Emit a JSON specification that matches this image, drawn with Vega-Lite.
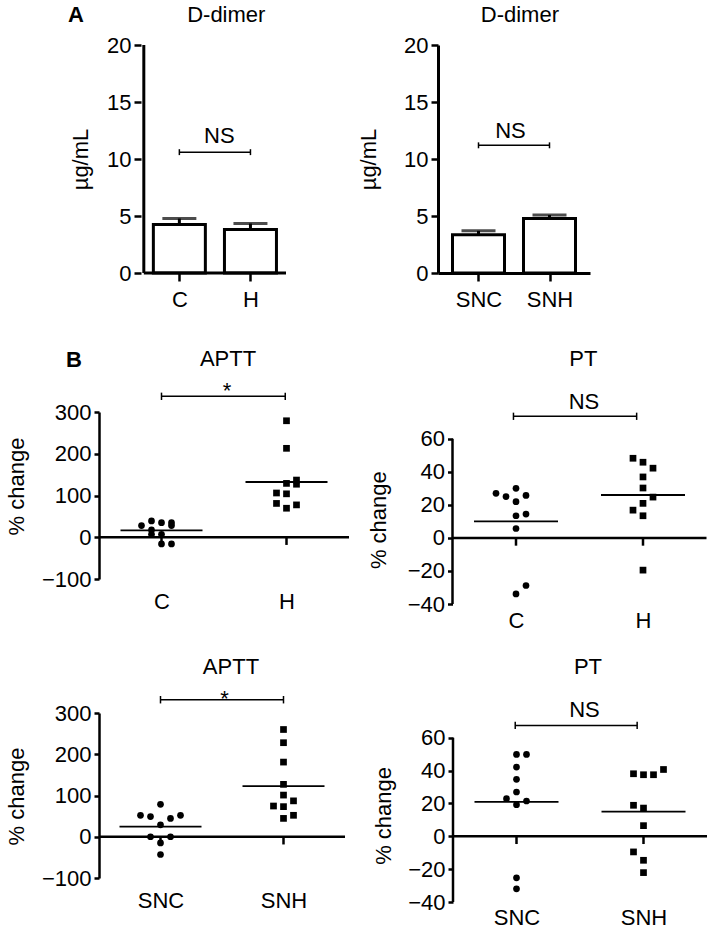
{
  "$schema": "https://vega.github.io/schema/vega-lite/v6.json",
  "background": "white",
  "padding": {"left": 5, "top": 4, "right": 0, "bottom": 0},
  "config": {
    "font": "Liberation Sans",
    "view": {"stroke": null},
    "axis": {"grid": false, "domainColor": "#000", "domainWidth": 2.5, "tickColor": "#000", "tickWidth": 2.5, "labelColor": "#000", "labelFontSize": 22, "labelFont": "Liberation Sans", "titleColor": "#000", "titleFontSize": 22, "titleFont": "Liberation Sans", "titleFontWeight": "normal", "labelFlush": false, "labelOverlap": false, "labelAngle": 0},
    "text": {"fontSize": 22, "font": "Liberation Sans", "color": "#000", "baseline": "middle", "align": "center"},
    "rule": {"color": "#000"},
    "tick": {"color": "#000"},
    "point": {"color": "#000", "filled": true, "opacity": 1}
  },
  "datasets": {
    "dd1": [{"grp": 1, "mean": 4.25, "upper": 4.78}, {"grp": 2, "mean": 3.82, "upper": 4.34}],
    "dd2": [{"grp": 1, "mean": 3.35, "upper": 3.7}, {"grp": 2, "mean": 4.78, "upper": 5.08}],
    "cats": [{"grp": 1}, {"grp": 2}],
    "one": [{}],
    "aptt1": [
      {"group": "C", "v": 28, "slot": -2}, {"group": "C", "v": 39, "slot": -1}, {"group": "C", "v": 35, "slot": 0}, {"group": "C", "v": 35, "slot": 1}, {"group": "C", "v": 28, "slot": 1},
      {"group": "C", "v": 17.5, "slot": -1}, {"group": "C", "v": 7, "slot": -1}, {"group": "C", "v": 7, "slot": 0}, {"group": "C", "v": -16, "slot": 0}, {"group": "C", "v": -16, "slot": 1},
      {"group": "H", "v": 279, "slot": 0}, {"group": "H", "v": 213, "slot": 0}, {"group": "H", "v": 129, "slot": 0}, {"group": "H", "v": 137, "slot": 1}, {"group": "H", "v": 127, "slot": 1},
      {"group": "H", "v": 106, "slot": -1}, {"group": "H", "v": 104, "slot": 0}, {"group": "H", "v": 81, "slot": -1}, {"group": "H", "v": 69.5, "slot": 0}, {"group": "H", "v": 77.5, "slot": 1}
    ],
    "pt1": [
      {"group": "C", "v": 27, "slot": -2}, {"group": "C", "v": 25, "slot": -1}, {"group": "C", "v": 30, "slot": 0}, {"group": "C", "v": 25.7, "slot": 1}, {"group": "C", "v": 21.9, "slot": 0},
      {"group": "C", "v": 13.4, "slot": 0}, {"group": "C", "v": 14.4, "slot": 1}, {"group": "C", "v": 5.7, "slot": 0}, {"group": "C", "v": -28.8, "slot": 1}, {"group": "C", "v": -33.9, "slot": 0},
      {"group": "H", "v": 48.2, "slot": -1}, {"group": "H", "v": 45.8, "slot": 0}, {"group": "H", "v": 42.2, "slot": 1}, {"group": "H", "v": 36.9, "slot": 0}, {"group": "H", "v": 30.2, "slot": 0},
      {"group": "H", "v": 24.7, "slot": 1}, {"group": "H", "v": 20.9, "slot": 0}, {"group": "H", "v": 16.8, "slot": -1}, {"group": "H", "v": 13.4, "slot": 0}, {"group": "H", "v": -19.5, "slot": 0}
    ],
    "aptt2": [
      {"group": "SNC", "v": 78.5, "slot": 0}, {"group": "SNC", "v": 52, "slot": -2}, {"group": "SNC", "v": 49, "slot": -1}, {"group": "SNC", "v": 44.5, "slot": 1}, {"group": "SNC", "v": 52, "slot": 2},
      {"group": "SNC", "v": 29, "slot": 0}, {"group": "SNC", "v": 0, "slot": -1}, {"group": "SNC", "v": 0, "slot": 1}, {"group": "SNC", "v": -15, "slot": 0}, {"group": "SNC", "v": -43, "slot": 0},
      {"group": "SNH", "v": 260, "slot": 0}, {"group": "SNH", "v": 228, "slot": 0}, {"group": "SNH", "v": 181, "slot": 0}, {"group": "SNH", "v": 127, "slot": 0}, {"group": "SNH", "v": 101, "slot": 0},
      {"group": "SNH", "v": 87, "slot": 1}, {"group": "SNH", "v": 74.5, "slot": -1}, {"group": "SNH", "v": 73, "slot": 0}, {"group": "SNH", "v": 52, "slot": 1}, {"group": "SNH", "v": 44.5, "slot": 0}
    ],
    "pt2": [
      {"group": "SNC", "v": 49.9, "slot": 0}, {"group": "SNC", "v": 49.9, "slot": 1}, {"group": "SNC", "v": 42.2, "slot": 0}, {"group": "SNC", "v": 34.7, "slot": 0}, {"group": "SNC", "v": 27, "slot": 0},
      {"group": "SNC", "v": 22.9, "slot": -1}, {"group": "SNC", "v": 19.3, "slot": 0}, {"group": "SNC", "v": 21.5, "slot": 1}, {"group": "SNC", "v": -25.3, "slot": 0}, {"group": "SNC", "v": -32, "slot": 0},
      {"group": "SNH", "v": 38.1, "slot": -1}, {"group": "SNH", "v": 37.5, "slot": 0}, {"group": "SNH", "v": 37.5, "slot": 1}, {"group": "SNH", "v": 40.7, "slot": 2}, {"group": "SNH", "v": 18.9, "slot": -1},
      {"group": "SNH", "v": 17.2, "slot": 0}, {"group": "SNH", "v": 6.5, "slot": 0}, {"group": "SNH", "v": -9.5, "slot": -1}, {"group": "SNH", "v": -14.6, "slot": 0}, {"group": "SNH", "v": -22.1, "slot": 0}
    ]
  },
  "spacing": 38,
  "vconcat": [
    {
      "spacing": 66,
      "hconcat": [
        {
          "width": 192, "height": 228,
          "layer": [
            {"data": {"name": "dd1"}, "mark": {"type": "bar", "size": 52, "fill": "white", "stroke": "black", "strokeWidth": 3},
             "encoding": {
               "x": {"field": "grp", "type": "quantitative", "scale": {"domain": [-0.06, 2.5], "nice": false, "zero": false},
                     "axis": {"values": [1, 2], "labelExpr": "datum.value == 1 ? 'C' : 'H'", "title": null, "domain": false, "tickSize": 8, "labelPadding": 8}},
               "y": {"field": "mean", "type": "quantitative", "scale": {"domain": [0, 20], "nice": false},
                     "axis": {"values": [0, 5, 10, 15, 20], "tickCount": 12, "title": "µg/mL", "domain": false, "offset": -42, "tickSize": 7, "labelPadding": 3, "titlePadding": 14.5}}}},
            {"data": {"name": "dd1"}, "mark": {"type": "rule", "strokeWidth": 3},
             "encoding": {"x": {"field": "grp", "type": "quantitative"}, "y": {"field": "mean", "type": "quantitative"}, "y2": {"field": "upper"}}},
            {"data": {"name": "dd1"}, "mark": {"type": "tick", "orient": "horizontal", "size": 34, "thickness": 3},
             "encoding": {"x": {"field": "grp", "type": "quantitative"}, "y": {"field": "upper", "type": "quantitative"}}},
            {"data": {"name": "one"}, "mark": {"type": "rule", "strokeWidth": 3},
             "encoding": {"x": {"datum": 0.5}, "y": {"datum": 0}, "y2": {"datum": 20}}},
            {"data": {"name": "one"}, "mark": {"type": "rule", "strokeWidth": 3},
             "encoding": {"x": {"datum": 0.5}, "x2": {"datum": 2.5}, "y": {"datum": 0}}},
            {"data": {"name": "one"}, "mark": {"type": "rule", "strokeWidth": 1.5},
             "encoding": {"x": {"datum": 1}, "x2": {"datum": 2}, "y": {"datum": 10.6}}},
            {"data": {"name": "cats"}, "mark": {"type": "rule", "strokeWidth": 1.5},
             "encoding": {"x": {"field": "grp", "type": "quantitative"}, "y": {"datum": 10.34}, "y2": {"datum": 10.86}}},
            {"data": {"name": "one"}, "mark": {"type": "text"},
             "encoding": {"x": {"datum": 1.563}, "y": {"datum": 12.0}, "text": {"value": "NS"}}},
            {"data": {"name": "one"}, "mark": {"type": "text"},
             "encoding": {"x": {"datum": 1.66}, "y": {"datum": 22.63}, "text": {"value": "D-dimer"}}},
            {"data": {"name": "one"}, "mark": {"type": "text", "fontWeight": "bold"},
             "encoding": {"x": {"datum": -0.453}, "y": {"datum": 22.6}, "text": {"value": "A"}}}
          ]
        },
        {
          "width": 152, "height": 228,
          "layer": [
            {"data": {"name": "dd2"}, "mark": {"type": "bar", "size": 52, "fill": "white", "stroke": "black", "strokeWidth": 3},
             "encoding": {
               "x": {"field": "grp", "type": "quantitative", "scale": {"domain": [0.5, 2.5], "nice": false, "zero": false},
                     "axis": {"values": [1, 2], "labelExpr": "datum.value == 1 ? 'SNC' : 'SNH'", "title": null, "domainWidth": 3, "tickSize": 8, "labelPadding": 8}},
               "y": {"field": "mean", "type": "quantitative", "scale": {"domain": [0, 20], "nice": false},
                     "axis": {"values": [0, 5, 10, 15, 20], "tickCount": 12, "title": "µg/mL", "domainWidth": 3, "tickSize": 7, "labelPadding": 3, "titlePadding": 23}}}},
            {"data": {"name": "dd2"}, "mark": {"type": "rule", "strokeWidth": 3},
             "encoding": {"x": {"field": "grp", "type": "quantitative"}, "y": {"field": "mean", "type": "quantitative"}, "y2": {"field": "upper"}}},
            {"data": {"name": "dd2"}, "mark": {"type": "tick", "orient": "horizontal", "size": 34, "thickness": 3},
             "encoding": {"x": {"field": "grp", "type": "quantitative"}, "y": {"field": "upper", "type": "quantitative"}}},
            {"data": {"name": "one"}, "mark": {"type": "rule", "strokeWidth": 1.5},
             "encoding": {"x": {"datum": 1}, "x2": {"datum": 2}, "y": {"datum": 11.2}}},
            {"data": {"name": "cats"}, "mark": {"type": "rule", "strokeWidth": 1.5},
             "encoding": {"x": {"field": "grp", "type": "quantitative"}, "y": {"datum": 10.94}, "y2": {"datum": 11.46}}},
            {"data": {"name": "one"}, "mark": {"type": "text"},
             "encoding": {"x": {"datum": 1.45}, "y": {"datum": 12.5}, "text": {"value": "NS"}}},
            {"data": {"name": "one"}, "mark": {"type": "text"},
             "encoding": {"x": {"datum": 1.583}, "y": {"datum": 22.63}, "text": {"value": "D-dimer"}}}
          ]
        }
      ]
    },
    {
      "spacing": 23,
      "vconcat": [
        {
          "spacing": 15.5,
          "hconcat": [
            {
              "width": 250, "height": 167,
              "resolve": {"scale": {"x": "independent"}},
              "layer": [
                {"data": {"name": "aptt1"},
                 "layer": [
                   {"mark": {"type": "point", "filled": true, "size": 45, "opacity": 1, "color": "black"},
                    "encoding": {
                      "x": {"field": "group", "type": "nominal", "scale": {"type": "point", "domain": ["C", "H"], "padding": 0.5},
                            "axis": {"title": null, "domain": false, "ticks": false, "tickSize": 0, "labelPadding": 12.5}},
                      "xOffset": {"field": "slot", "type": "quantitative", "scale": {"domain": [-2, 2], "range": [-20, 20]}},
                      "y": {"field": "v", "type": "quantitative", "scale": {"domain": [-100, 300], "nice": false},
                            "axis": {"values": [-100, 0, 100, 200, 300], "tickCount": 12, "title": "% change", "tickSize": 5, "labelPadding": 3, "titlePadding": 12.5, "titleY": 74}},
                      "shape": {"field": "group", "type": "nominal", "scale": {"domain": ["C", "H"], "range": ["circle", "square"]}, "legend": null}}},
                   {"mark": {"type": "tick", "orient": "horizontal", "size": 82, "thickness": 1.8},
                    "encoding": {"x": {"field": "group", "type": "nominal"}, "y": {"aggregate": "mean", "field": "v", "type": "quantitative"}}}
                 ]},
                {"layer": [
                  {"data": {"name": "one"}, "mark": {"type": "rule", "strokeWidth": 2.5},
                   "encoding": {"x": {"datum": 0.5, "scale": {"domain": [0.5, 2.5], "nice": false, "zero": false}, "axis": null}, "y": {"datum": 0}}},
                  {"data": {"name": "one"}, "mark": {"type": "rule", "strokeWidth": 2.5},
                   "encoding": {"y": {"datum": 0}}},
                  {"data": {"name": "cats"}, "mark": {"type": "rule", "strokeWidth": 2.5},
                   "encoding": {"x": {"field": "grp", "type": "quantitative", "axis": null}, "y": {"datum": 0}, "y2": {"datum": -18.4}}},
                  {"data": {"name": "one"}, "mark": {"type": "rule", "strokeWidth": 1.5},
                   "encoding": {"x": {"datum": 1, "axis": null}, "x2": {"datum": 1.99}, "y": {"datum": 337.6}}},
                  {"data": {"name": "one"}, "mark": {"type": "rule", "strokeWidth": 1.5},
                   "encoding": {"x": {"datum": 1, "axis": null}, "y": {"datum": 328.8}, "y2": {"datum": 346.4}}},
                  {"data": {"name": "one"}, "mark": {"type": "rule", "strokeWidth": 1.5},
                   "encoding": {"x": {"datum": 1.99, "axis": null}, "y": {"datum": 328.8}, "y2": {"datum": 346.4}}},
                  {"data": {"name": "one"}, "mark": {"type": "text", "baseline": "alphabetic"},
                   "encoding": {"x": {"datum": 1.524, "axis": null}, "y": {"datum": 334.7}, "text": {"value": "*"}}},
                  {"data": {"name": "one"}, "mark": {"type": "text"},
                   "encoding": {"x": {"datum": 1.532, "axis": null}, "y": {"datum": 426}, "text": {"value": "APTT"}}},
                  {"data": {"name": "one"}, "mark": {"type": "text", "fontWeight": "bold"},
                   "encoding": {"x": {"datum": 0.3, "axis": null}, "y": {"datum": 425}, "text": {"value": "B"}}}
                ]}
              ]
            },
            {
              "width": 254, "height": 192,
              "resolve": {"scale": {"x": "independent"}},
              "layer": [
                {"data": {"name": "pt1"},
                 "layer": [
                   {"mark": {"type": "point", "filled": true, "size": 45, "opacity": 1, "color": "black"},
                    "encoding": {
                      "x": {"field": "group", "type": "nominal", "scale": {"type": "point", "domain": ["C", "H"], "padding": 0.5},
                            "axis": {"title": null, "domain": false, "ticks": false, "tickSize": 0, "labelPadding": 6.8}},
                      "xOffset": {"field": "slot", "type": "quantitative", "scale": {"domain": [-2, 2], "range": [-20, 20]}},
                      "y": {"field": "v", "type": "quantitative", "scale": {"domain": [-40, 76.2], "nice": false},
                            "axis": {"values": [-40, -20, 0, 20, 40, 60], "tickCount": 12, "title": "% change", "domain": false, "tickSize": 5, "labelPadding": 3, "titlePadding": 17, "titleY": 107.7}},
                      "shape": {"field": "group", "type": "nominal", "scale": {"domain": ["C", "H"], "range": ["circle", "square"]}, "legend": null}}},
                   {"mark": {"type": "tick", "orient": "horizontal", "size": 84, "thickness": 1.8},
                    "encoding": {"x": {"field": "group", "type": "nominal"}, "y": {"aggregate": "mean", "field": "v", "type": "quantitative"}}}
                 ]},
                {"layer": [
                  {"data": {"name": "one"}, "mark": {"type": "rule", "strokeWidth": 2.5},
                   "encoding": {"x": {"datum": 0.5, "scale": {"domain": [0.5, 2.5], "nice": false, "zero": false}, "axis": null}, "y": {"datum": -40}, "y2": {"datum": 60}}},
                  {"data": {"name": "one"}, "mark": {"type": "rule", "strokeWidth": 2.5},
                   "encoding": {"y": {"datum": 0}}},
                  {"data": {"name": "cats"}, "mark": {"type": "rule", "strokeWidth": 2.5},
                   "encoding": {"x": {"field": "grp", "type": "quantitative", "axis": null}, "y": {"datum": 0}, "y2": {"datum": -4.7}}},
                  {"data": {"name": "one"}, "mark": {"type": "rule", "strokeWidth": 1.5},
                   "encoding": {"x": {"datum": 0.98, "axis": null}, "x2": {"datum": 1.95}, "y": {"datum": 73.6}}},
                  {"data": {"name": "one"}, "mark": {"type": "rule", "strokeWidth": 1.5},
                   "encoding": {"x": {"datum": 0.98, "axis": null}, "y": {"datum": 71.4}, "y2": {"datum": 75.8}}},
                  {"data": {"name": "one"}, "mark": {"type": "rule", "strokeWidth": 1.5},
                   "encoding": {"x": {"datum": 1.95, "axis": null}, "y": {"datum": 71.4}, "y2": {"datum": 75.8}}},
                  {"data": {"name": "one"}, "mark": {"type": "text"},
                   "encoding": {"x": {"datum": 1.535, "axis": null}, "y": {"datum": 82.4}, "text": {"value": "NS"}}},
                  {"data": {"name": "one"}, "mark": {"type": "text"},
                   "encoding": {"x": {"datum": 1.53, "axis": null}, "y": {"datum": 108.1}, "text": {"value": "PT"}}}
                ]}
              ]
            }
          ]
        },
        {
          "spacing": 25,
          "hconcat": [
            {
              "width": 246, "height": 165,
              "resolve": {"scale": {"x": "independent"}},
              "layer": [
                {"data": {"name": "aptt2"},
                 "layer": [
                   {"mark": {"type": "point", "filled": true, "size": 45, "opacity": 1, "color": "black"},
                    "encoding": {
                      "x": {"field": "group", "type": "nominal", "scale": {"type": "point", "domain": ["SNC", "SNH"], "padding": 0.5},
                            "axis": {"title": null, "domain": false, "ticks": false, "tickSize": 0, "labelPadding": 12.9}},
                      "xOffset": {"field": "slot", "type": "quantitative", "scale": {"domain": [-2, 2], "range": [-20, 20]}},
                      "y": {"field": "v", "type": "quantitative", "scale": {"domain": [-100, 300], "nice": false},
                            "axis": {"values": [-100, 0, 100, 200, 300], "tickCount": 12, "title": "% change", "tickSize": 5, "labelPadding": 3, "titlePadding": 12.5, "titleY": 83}},
                      "shape": {"field": "group", "type": "nominal", "scale": {"domain": ["SNC", "SNH"], "range": ["circle", "square"]}, "legend": null}}},
                   {"mark": {"type": "tick", "orient": "horizontal", "size": 82, "thickness": 1.8},
                    "encoding": {"x": {"field": "group", "type": "nominal"}, "y": {"aggregate": "mean", "field": "v", "type": "quantitative"}}}
                 ]},
                {"layer": [
                  {"data": {"name": "one"}, "mark": {"type": "rule", "strokeWidth": 2.5},
                   "encoding": {"x": {"datum": 0.5, "scale": {"domain": [0.5, 2.5], "nice": false, "zero": false}, "axis": null}, "y": {"datum": 0}}},
                  {"data": {"name": "one"}, "mark": {"type": "rule", "strokeWidth": 2.5},
                   "encoding": {"y": {"datum": 0}}},
                  {"data": {"name": "cats"}, "mark": {"type": "rule", "strokeWidth": 2.5},
                   "encoding": {"x": {"field": "grp", "type": "quantitative", "axis": null}, "y": {"datum": 0}, "y2": {"datum": -18.7}}},
                  {"data": {"name": "one"}, "mark": {"type": "rule", "strokeWidth": 1.5},
                   "encoding": {"x": {"datum": 1, "axis": null}, "x2": {"datum": 2}, "y": {"datum": 332.2}}},
                  {"data": {"name": "cats"}, "mark": {"type": "rule", "strokeWidth": 1.5},
                   "encoding": {"x": {"field": "grp", "type": "quantitative", "axis": null}, "y": {"datum": 323.2}, "y2": {"datum": 341.2}}},
                  {"data": {"name": "one"}, "mark": {"type": "text", "baseline": "alphabetic"},
                   "encoding": {"x": {"datum": 1.52, "axis": null}, "y": {"datum": 315.8}, "text": {"value": "*"}}},
                  {"data": {"name": "one"}, "mark": {"type": "text"},
                   "encoding": {"x": {"datum": 1.573, "axis": null}, "y": {"datum": 411.5}, "text": {"value": "APTT"}}}
                ]}
              ]
            },
            {
              "width": 254, "height": 189,
              "resolve": {"scale": {"x": "independent"}},
              "layer": [
                {"data": {"name": "pt2"},
                 "layer": [
                   {"mark": {"type": "point", "filled": true, "size": 45, "opacity": 1, "color": "black"},
                    "encoding": {
                      "x": {"field": "group", "type": "nominal", "scale": {"type": "point", "domain": ["SNC", "SNH"], "padding": 0.5},
                            "axis": {"title": null, "domain": false, "ticks": false, "tickSize": 0, "labelPadding": 5.5}},
                      "xOffset": {"field": "slot", "type": "quantitative", "scale": {"domain": [-2, 2], "range": [-20, 20]}},
                      "y": {"field": "v", "type": "quantitative", "scale": {"domain": [-40, 75.1], "nice": false},
                            "axis": {"values": [-40, -20, 0, 20, 40, 60], "tickCount": 12, "title": "% change", "domain": false, "tickSize": 5, "labelPadding": 3, "titlePadding": 12.5, "titleY": 102.4}},
                      "shape": {"field": "group", "type": "nominal", "scale": {"domain": ["SNC", "SNH"], "range": ["circle", "square"]}, "legend": null}}},
                   {"mark": {"type": "tick", "orient": "horizontal", "size": 84, "thickness": 1.8},
                    "encoding": {"x": {"field": "group", "type": "nominal"}, "y": {"aggregate": "mean", "field": "v", "type": "quantitative"}}}
                 ]},
                {"layer": [
                  {"data": {"name": "one"}, "mark": {"type": "rule", "strokeWidth": 2.5},
                   "encoding": {"x": {"datum": 0.5, "scale": {"domain": [0.5, 2.5], "nice": false, "zero": false}, "axis": null}, "y": {"datum": -40}, "y2": {"datum": 60}}},
                  {"data": {"name": "one"}, "mark": {"type": "rule", "strokeWidth": 2.5},
                   "encoding": {"y": {"datum": 0}}},
                  {"data": {"name": "cats"}, "mark": {"type": "rule", "strokeWidth": 2.5},
                   "encoding": {"x": {"field": "grp", "type": "quantitative", "axis": null}, "y": {"datum": 0}, "y2": {"datum": -4.7}}},
                  {"data": {"name": "one"}, "mark": {"type": "rule", "strokeWidth": 1.5},
                   "encoding": {"x": {"datum": 0.99, "axis": null}, "x2": {"datum": 1.95}, "y": {"datum": 67.5}}},
                  {"data": {"name": "one"}, "mark": {"type": "rule", "strokeWidth": 1.5},
                   "encoding": {"x": {"datum": 0.99, "axis": null}, "y": {"datum": 65.3}, "y2": {"datum": 69.7}}},
                  {"data": {"name": "one"}, "mark": {"type": "rule", "strokeWidth": 1.5},
                   "encoding": {"x": {"datum": 1.95, "axis": null}, "y": {"datum": 65.3}, "y2": {"datum": 69.7}}},
                  {"data": {"name": "one"}, "mark": {"type": "text"},
                   "encoding": {"x": {"datum": 1.535, "axis": null}, "y": {"datum": 76.9}, "text": {"value": "NS"}}},
                  {"data": {"name": "one"}, "mark": {"type": "text"},
                   "encoding": {"x": {"datum": 1.563, "axis": null}, "y": {"datum": 103.3}, "text": {"value": "PT"}}}
                ]}
              ]
            }
          ]
        }
      ]
    }
  ]
}
